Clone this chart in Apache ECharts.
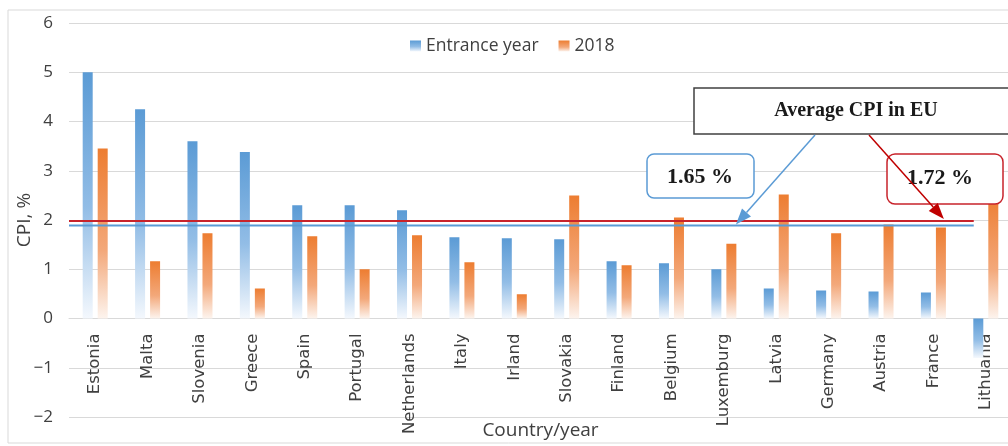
<!DOCTYPE html>
<html>
<head>
<meta charset="utf-8">
<script src="https://cdn.jsdelivr.net/npm/echarts@6/dist/echarts.min.js"></script>
<style>html,body{margin:0;padding:0;background:#fff;}#c{width:1008px;height:446px;}</style>
</head>
<body>
<div id="c"></div>
<script>
var countries = ['Estonia','Malta','Slovenia','Greece','Spain','Portugal','Netherlands','Italy','Irland','Slovakia','Finland','Belgium','Luxemburg','Latvia','Germany','Austria','France','Lithuania'];
var entranceYear = [5.0, 4.25, 3.6, 3.38, 2.3, 2.3, 2.2, 1.65, 1.63, 1.61, 1.16, 1.12, 1.0, 0.61, 0.57, 0.55, 0.53, -0.8];
var y2018 = [3.45, 1.16, 1.73, 0.61, 1.67, 1.0, 1.69, 1.14, 0.49, 2.5, 1.08, 2.05, 1.52, 2.52, 1.73, 1.91, 1.85, 2.5];
var yTicks = [-2, -1, 0, 1, 2, 3, 4, 5, 6];
var avgEntrance = 1.89;   // drawn line level
var avg2018 = 1.98;       // drawn line level
var avgLabels = ['1.65 %', '1.72 %'];
var lineSpan = [-0.5, 16.77]; // category index range covered by average lines

var W = 1008, H = 446, GT = 23, GB = 29;
var yMin = yTicks[0], yMax = yTicks[yTicks.length-1];
var zeroOffset = -(0 - yMin) / (yMax - yMin) * (H - GT - GB);

var blueGrad = new echarts.graphic.LinearGradient(0,0,0,1,[
  {offset:0,color:'#5b9bd5'},{offset:0.55,color:'#92bde6'},{offset:1,color:'#f4f8fd'}]);
var orangeGrad = new echarts.graphic.LinearGradient(0,0,0,1,[
  {offset:0,color:'#ed7d31'},{offset:0.6,color:'#f3a87a'},{offset:1,color:'#fdf4ee'}]);

var chart = echarts.init(document.getElementById('c'), null, {renderer:'canvas'});
var option = {
  animation:false,
  backgroundColor:'#fff',
  legend:{
    data:['Entrance year','2018'],
    left:405, top:32,
    itemWidth:11, itemHeight:11, itemGap:20,
    icon:'rect',
    textStyle:{fontFamily:'Open Sans', fontSize:17.5, color:'#404040'}
  },
  grid:{left:69, right:-4, top:GT, bottom:GB, containLabel:false, outerBoundsMode:'none'},
  xAxis:[{
    type:'category', data:countries, position:'bottom', offset:zeroOffset,
    axisLine:{onZero:false, lineStyle:{color:'#d9d9d9'}},
    axisTick:{show:false},
    axisLabel:{rotate:90, interval:0, margin:15, fontFamily:'DejaVu Sans', fontSize:16.5, color:'#404040'},
    name:'Country/year', nameLocation:'middle', nameGap:103, nameMoveOverlap:false,
    nameTextStyle:{fontFamily:'Open Sans', fontSize:19, color:'#404040'}
  },{
    type:'value', min:-0.5, max:17.5, show:false, axisLine:{onZero:false}
  }],
  yAxis:{
    type:'value', min:yMin, max:yMax, interval:1,
    axisLine:{show:false, onZero:false}, axisTick:{show:false},
    splitLine:{lineStyle:{color:'#d9d9d9', width:1}},
    axisLabel:{margin:16, fontFamily:'Open Sans', fontSize:17, color:'#404040',
      formatter:function(v){return String(v).replace('-','\u2212');}},
    name:'CPI, %', nameLocation:'middle', nameGap:35, nameMoveOverlap:false,
    nameTextStyle:{fontFamily:'Open Sans', fontSize:19, color:'#404040'}
  },
  series:[
    {name:'Entrance year', type:'bar', data:entranceYear, barWidth:10, barGap:'50%',
      itemStyle:{color:blueGrad}},
    {name:'2018', type:'bar', data:y2018, barWidth:10,
      itemStyle:{color:orangeGrad}},
    {name:'avg2018', type:'line', xAxisIndex:1, symbol:'none', silent:true,
      data:[[lineSpan[0],avg2018],[lineSpan[1],avg2018]],
      lineStyle:{color:'#c8232b', width:2}, z:5},
    {name:'avgEntrance', type:'line', xAxisIndex:1, symbol:'none', silent:true,
      data:[[lineSpan[0],avgEntrance],[lineSpan[1],avgEntrance]],
      lineStyle:{color:'#5b9bd5', width:2}, z:5}
  ]
};
chart.setOption(option);

function arrow(x1,y1,x2,y2,color,len,wid){
  var a=Math.atan2(y2-y1,x2-x1);
  var bx=x2-len*Math.cos(a), by=y2-len*Math.sin(a);
  var px=-Math.sin(a)*wid/2, py=Math.cos(a)*wid/2;
  return [
    {type:'line', shape:{x1:x1,y1:y1,x2:bx,y2:by}, style:{stroke:color, lineWidth:1.5}, z:120},
    {type:'polygon', shape:{points:[[x2,y2],[bx+px,by+py],[bx-px,by-py]]}, style:{fill:color}, z:120}
  ];
}
var pBlue = chart.convertToPixel({xAxisIndex:1, yAxisIndex:0}, [12.23, avgEntrance]);
var pRed = chart.convertToPixel({xAxisIndex:1, yAxisIndex:0}, [16.2, avg2018]);
var serif = '"Liberation Serif","Times New Roman",serif';
var g = [
  {type:'rect', shape:{x:8,y:10,width:1030,height:433}, style:{fill:'none', stroke:'#d9d9d9', lineWidth:1}, z:1, silent:true},
  {type:'rect', shape:{x:647,y:154,width:107,height:44,r:7}, style:{fill:'#fff', stroke:'#5b9bd5', lineWidth:1.5}, z:110},
  {type:'text', x:700, y:177, style:{text:avgLabels[0], font:'bold 22px '+serif, fill:'#1a1a1a', align:'center', verticalAlign:'middle'}, z:111},
  {type:'rect', shape:{x:887,y:154,width:116,height:50,r:8}, style:{fill:'#fff', stroke:'#c8232b', lineWidth:1.5}, z:110},
  {type:'text', x:940, y:178, style:{text:avgLabels[1], font:'bold 22px '+serif, fill:'#1a1a1a', align:'center', verticalAlign:'middle'}, z:111},
  {type:'rect', shape:{x:694,y:88,width:330,height:46}, style:{fill:'#fff', stroke:'#404040', lineWidth:1.5}, z:115},
  {type:'text', x:856, y:111, style:{text:'Average CPI in EU', font:'bold 20px '+serif, fill:'#1a1a1a', align:'center', verticalAlign:'middle'}, z:116}
];
g = g.concat(arrow(815,135,pBlue[0],pBlue[1]-1,'#5b9bd5',16,12));
g = g.concat(arrow(869,135,pRed[0],pRed[1]-2,'#c00000',16,12));
chart.setOption({graphic:{elements:g}});
</script>
</body>
</html>
